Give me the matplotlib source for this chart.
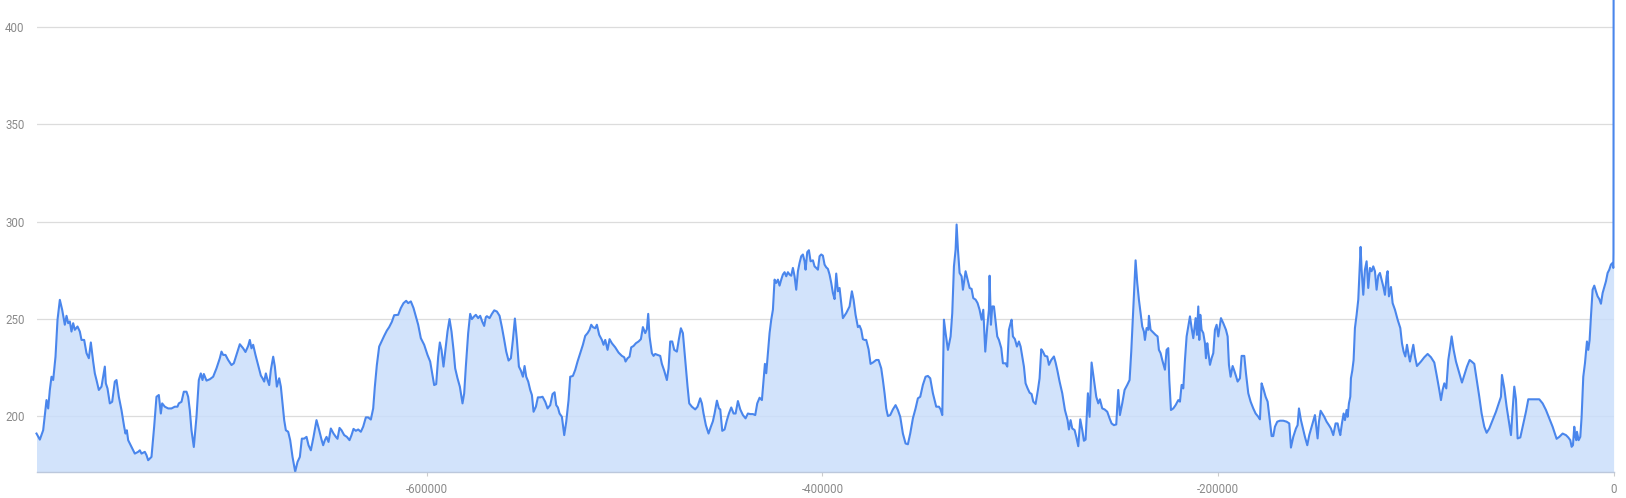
import matplotlib
matplotlib.use("Agg")
import matplotlib.pyplot as plt
from matplotlib.ticker import FixedLocator, FixedFormatter

plt.rcParams['font.family'] = ['Roboto', 'DejaVu Sans']
plt.rcParams['axes.unicode_minus'] = False

# Age (years relative to present) and CO2 (ppm)
ages = [
    -797300, -795610, -793930, -792240, -791400, -790560, -789720, -788870, -787690, -786680,
    -785500, -784320, -782980, -782130, -781290, -780450, -779610, -778760, -777920, -776570,
    -775390, -774550, -773200, -772020, -770840, -769830, -768650, -767810, -766970, -765790,
    -764440, -763600, -762760, -762250, -761410, -760230, -759050, -757700, -756860, -755680,
    -754330, -752980, -752310, -751630, -750960, -749280, -747590, -745910, -745060, -744220,
    -742540, -741690, -740850, -739170, -737820, -736640, -735460, -734450, -733770, -732430,
    -730740, -729060, -727370, -726020, -725350, -724000, -722820, -721470, -720630, -719790,
    -718950, -717770, -716420, -715240, -714230, -713380, -712710, -711360, -709680, -707990,
    -706310, -704620, -703780, -702940, -701760, -700410, -698730, -697550, -696200, -694510,
    -692830, -691650, -690300, -689460, -688620, -687770, -686590, -685250,
    -683880, -683030, -682190, -681350, -680510, -679660, -678820, -677640, -676800, -675790,
    -674610, -673770, -672920, -672080, -671240, -670060, -669050, -667870, -666520, -665340,
    -664160, -663150, -661970, -660790, -659780, -658600, -657250, -655740, -654390, -653210,
    -652370, -651520, -650680, -649670, -648490, -647140, -645960, -645120, -644110, -643100,
    -641750, -640400, -639050, -638040, -637030, -635850, -634670, -633330, -632150, -630800,
    -629620, -628270, -627090, -626250, -625240, -624060, -622880, -621530, -620180, -619000,
    -617650, -616480, -614450, -613110, -611760, -610410, -609400, -608050, -606700, -605520,
    -604340, -603000, -601310, -599630, -598280, -597100, -596260, -595240, -594230, -593390,
    -592550, -591540, -590360, -589520, -588500, -587490, -586480, -585640, -584460, -583280,
    -581930, -581090, -580250, -579070, -578060, -577210, -576040, -575190, -574010, -573000,
    -571990, -570980, -570140,
    -569600, -568250, -567070, -565890, -564550, -563200, -562020, -560840, -559830, -558650,
    -557470, -556460, -555450, -554440, -553420, -552410, -551400, -550560, -549720, -548710,
    -547700, -546850, -546010, -544830, -543820, -542640, -541460, -540110, -538930, -537590,
    -536410, -535390, -534550, -533710, -532870, -531690, -530510, -529500, -528320, -527480,
    -526130, -524950, -523770, -522420, -521070, -519890, -518710, -517700, -516860, -516020,
    -514840, -514000, -512820, -511470, -510630, -509780, -508600, -507590, -506410, -504730,
    -503040, -501360, -500180, -499500, -498490, -497480, -496640, -495460, -494280, -492930,
    -491750, -490740, -489560, -488720, -488050, -487370, -486190, -485350, -484510, -483330,
    -481980, -481140, -479960, -478610, -477770, -476930, -475910, -474900, -473560, -472540,
    -471530, -470520, -469340, -468160, -467320, -465970, -464290, -463110, -461760, -460920,
    -460080, -458900, -457550, -456370,
    -455350, -454500, -453320, -452310, -451630, -450620, -449440, -448260, -447250, -446070,
    -444890, -443880, -442700, -441520, -440180, -438830, -437650, -436470, -435120, -433940,
    -432930, -431750, -430570, -429730, -429050, -428380, -427540, -426700, -425850, -425010,
    -424170, -423330, -422480, -421640, -420800, -419960, -419110, -418270, -417430, -416590,
    -415740, -414900, -414060, -413220, -412370, -411530, -410690, -409850, -409000, -408500,
    -407650, -406810, -405970, -404790, -403950, -403110, -402260, -401420, -400580, -399740,
    -398890, -398050, -397210, -396370, -395520, -394680, -393840, -393000, -392150, -391310,
    -390470, -389630, -387940, -386260, -385080, -384230, -383220, -382040, -381200, -380360,
    -379520, -378670, -377830, -376650, -375640, -374460, -372780, -371600, -370250, -369410,
    -368560, -367720, -366880, -365700, -364350, -363000, -361820, -360640, -359300, -357950,
    -356770, -355590, -354240, -352890, -351710, -350530, -349190, -347840, -346660, -345480,
    -344130, -342450,
    -341080, -340230, -339390, -338550, -337710, -336530, -335180, -334340, -333490, -332650,
    -332140, -331470, -330630, -329620, -328940, -327600, -326580, -325570, -324560, -323720,
    -322540, -321530, -320520, -319510, -318660, -317650, -316640, -315800, -315460, -314790,
    -314120, -313270, -312430, -311590, -310750, -309570, -308720, -307380, -306530, -305690,
    -304850, -304340, -303670, -302660, -301650, -300640, -299790, -298950, -298110, -297270,
    -296250, -295240, -294230, -293390, -292210, -291030, -290190, -289350, -288500, -287490,
    -286310, -285470, -284290, -282940, -282100, -281260, -280080, -278730, -277380, -276030,
    -275360, -274520, -273680, -272500, -271650, -270640, -269630, -268620, -267780, -266940,
    -265760, -264910, -263900, -262720, -261540, -260530, -259690, -258510, -257330, -255980,
    -254800, -253790, -252610, -251430, -250420, -249580, -248400, -247220, -245870, -244690,
    -243850, -243010, -242170, -241660, -240820, -239980, -239130, -238290, -237450, -236940,
    -236100, -235260, -234920, -234080, -232900, -231550, -230540, -229870, -229020, -228180,
    -226830,
    -225970, -225130, -224620, -223780, -222600, -221420, -220070, -219230, -218390, -217540,
    -216700, -215860, -215020, -214170, -213330, -212490, -211980, -211310, -210630, -209960,
    -209450, -208950, -208280, -207430, -206590, -206080, -205410, -204910, -204060, -203220,
    -202380, -201540, -200690, -199850, -199010, -198500, -197320, -195970, -195130, -194460,
    -193620, -192600, -191760, -190920, -190080, -188900, -188060, -186710, -185860, -184690,
    -183510, -182160, -180980, -179630, -178790, -177950, -177100, -175920, -174910, -173730,
    -172890, -172050, -171210, -170030, -168680, -166990, -165310, -163960, -163120, -161940,
    -160590, -159750, -159070, -158060, -156880, -156040, -154860, -153850, -152670, -151490,
    -150990, -150140, -149640, -148960, -148120, -147280, -146270, -145090, -143910, -142900,
    -141720, -140540, -139530, -138850, -138180, -137340, -136490, -135820, -134980, -134470,
    -133800, -133120, -132790, -132110, -131440, -130770, -129920, -129080, -128570, -127900,
    -127400, -126550, -125710, -124870, -124030, -123180, -122340, -121500, -120660, -119810,
    -118970, -118130, -117290, -116440, -115600, -114760, -114250, -113580,
    -112550, -111710, -110530, -109180, -107830, -106990, -106150, -105300, -104460, -103620,
    -102950, -102100, -101260, -100420, -99410, -97390, -95700, -94020, -92330, -90650,
    -89470, -88120, -87280, -86430, -85590, -84580, -83570, -82560, -81880, -80870,
    -79690, -78010, -76660, -75480, -74130, -72780, -71770, -70430, -69080, -67900,
    -66720, -65370, -64190, -62840, -61160, -59470, -57790, -56950, -56440, -55260,
    -54080, -52900, -51890, -51050, -50210, -49360, -48520, -47170, -45990, -44310,
    -43130, -40940, -37570, -35880, -34200, -32510, -30830, -28810, -27460, -25770,
    -24090, -22910, -21900, -21220, -20550, -19880, -19370, -18860, -18530, -17680,
    -16840, -16170, -15330, -14480, -13470, -12800, -12120, -11450, -10610, -9770,
    -8920, -8080, -7240, -6400, -5550, -4710, -3870, -3030, -2180, -1340,
    -500, -150, -60, 0,
]

co2 = [
    191.2, 188.1, 192.9, 208.4, 204.1, 213.6, 220.4, 218.7, 230.7, 249.6,
    259.9, 254.8, 247.1, 251.7, 247.9, 248.8, 243.6, 247.9, 244.5, 246.2,
    243.6, 239.3, 239.3, 232.5, 229.9, 238.0, 228.2, 222.1, 218.7, 213.6,
    215.3, 220.4, 225.6, 217.0, 214.4, 206.7, 207.5, 217.9, 218.7, 210.1,
    203.2, 194.7, 191.2, 192.9, 187.8, 184.3, 180.9, 181.8, 182.6, 180.9,
    181.8, 180.1, 177.5, 179.2, 194.7, 210.1, 211.0, 201.5, 206.7, 205.0,
    204.1, 204.1, 205.0, 205.0, 206.7, 207.5, 212.7, 212.7, 210.1, 203.2,
    192.9, 184.3, 199.8, 218.7, 222.1, 218.7, 221.8, 218.4, 219.1, 220.4,
    224.7, 229.9, 233.3, 231.6, 231.6, 229.0, 226.4, 227.3, 231.6, 237.1,
    235.0, 233.1, 236.2, 239.3, 235.0, 236.8, 231.6, 226.4,
    221.0, 219.6, 217.9, 222.1, 218.7, 216.1, 223.9, 230.7, 225.6, 215.3,
    219.6, 215.3, 206.7, 198.1, 192.9, 192.1, 187.8, 179.2, 171.6, 176.6,
    179.2, 188.6, 188.6, 189.5, 185.2, 182.6, 189.5, 198.1, 192.9, 188.1,
    185.2, 187.8, 189.5, 186.9, 193.8, 191.2, 189.5, 188.5, 194.1, 192.9,
    190.4, 189.5, 187.8, 190.4, 193.6, 192.6, 193.3, 192.1, 194.7, 199.5,
    199.5, 198.4, 204.1, 215.3, 226.4, 235.9, 238.5, 241.4, 244.1, 245.9,
    248.6, 252.0, 252.2, 255.7, 258.2, 259.4, 258.2, 259.1, 255.7, 251.4,
    247.1, 240.2, 236.8, 231.6, 228.2, 221.3, 216.1, 216.6, 230.7, 238.0,
    234.2, 225.6, 235.9, 243.6, 250.0, 243.6, 234.2, 224.7, 219.6, 215.3,
    206.7, 211.8, 225.6, 242.8, 252.7, 250.0, 251.4, 252.2, 250.5, 251.7,
    248.8, 246.5, 251.0,
    251.5, 250.5, 252.7, 254.5, 253.9, 251.7, 245.9, 239.3, 233.3, 228.7,
    229.9, 239.3, 250.3, 239.3, 225.6, 223.5, 220.4, 225.9, 220.4, 217.9,
    213.6, 211.0, 202.4, 205.0, 209.8, 209.8, 210.1, 207.5, 204.1, 205.8,
    211.5, 212.4, 205.8, 204.6, 201.5, 199.8, 190.4, 197.2, 208.4, 220.4,
    220.8, 223.9, 228.2, 232.5, 236.8, 241.4, 242.8, 244.5, 247.1, 245.9,
    245.3, 247.1, 241.9, 239.3, 236.8, 239.3, 234.2, 239.7, 237.6, 235.5,
    232.8, 231.1, 230.4, 228.2, 229.9, 230.7, 235.5, 236.2, 237.6, 238.5,
    239.7, 245.9, 242.8, 244.8, 252.7, 241.0, 232.5, 231.1, 232.1, 231.6,
    231.1, 227.0, 223.5, 218.7, 224.7, 238.5, 238.5, 234.2, 233.3, 239.7,
    245.3, 242.8, 229.0, 215.3, 206.7, 205.0, 203.6, 205.0, 209.3, 206.7,
    201.5, 195.5, 191.2, 194.7,
    197.5, 201.5, 208.1, 204.1, 203.6, 192.6, 193.3, 198.1, 201.5, 204.6,
    201.5, 201.5, 207.9, 203.6, 200.7, 199.0, 201.5, 201.2, 201.2, 200.7,
    206.7, 209.6, 208.4, 218.7, 227.0, 222.2, 232.5, 242.8, 249.7, 254.8,
    270.3, 268.6, 270.3, 267.2, 270.3, 272.9, 274.1, 272.0, 274.1, 272.9,
    272.3, 276.3, 272.0, 265.1, 274.6, 278.9, 282.3, 283.2, 279.7, 275.4,
    284.4, 285.4, 279.7, 280.2, 277.1, 276.3, 275.4, 282.3, 283.2, 282.6,
    278.0, 276.6, 275.8, 272.9, 268.6, 263.4, 260.3, 273.4, 264.3, 266.0,
    258.2, 250.5, 253.1, 256.5, 264.3, 260.0, 252.2, 245.9, 246.6, 244.5,
    239.7, 239.3, 239.3, 234.5, 227.0, 227.7, 229.0, 229.0, 224.7, 218.7,
    211.9, 204.1, 200.2, 200.7, 203.6, 205.8, 203.3, 199.8, 191.2, 186.1,
    185.7, 191.2, 199.0, 204.1, 209.3, 210.1, 216.2, 220.4, 220.8, 219.6,
    211.9, 205.0,
    205.0, 203.6, 200.7, 249.7, 242.8, 234.2, 241.1, 253.1, 277.1, 285.7,
    298.6, 285.7, 273.7, 272.0, 265.1, 274.6, 270.3, 266.0, 265.5, 260.8,
    260.0, 258.2, 254.8, 249.7, 254.8, 233.3, 246.2, 254.8, 272.3, 247.1,
    256.5, 256.5, 248.8, 241.1, 239.3, 235.1, 227.3, 227.3, 225.6, 244.5,
    247.9, 249.7, 241.1, 239.7, 235.9, 238.5, 235.9, 230.8, 225.6, 217.0,
    214.4, 212.2, 211.5, 207.6, 206.4, 213.6, 219.6, 234.5, 233.3, 231.1,
    230.8, 226.5, 229.0, 230.8, 227.7, 223.9, 217.9, 211.9, 203.3, 198.1,
    193.3, 198.1, 193.8, 193.0, 189.5, 184.7, 198.5, 193.0, 187.5, 188.1,
    211.9, 199.8, 227.7, 218.7, 210.1, 206.7, 208.8, 204.1, 203.6, 202.4,
    199.0, 196.4, 195.5, 195.9, 213.6, 200.7, 206.7, 213.6, 216.2, 218.7,
    233.3, 251.4, 270.3, 280.2, 268.6, 260.0, 253.1, 246.2, 243.6, 239.3,
    245.4, 244.5, 251.7, 244.5, 243.3, 241.9, 241.1, 234.2, 232.5, 229.0,
    224.0,
    234.2, 235.1, 218.7, 203.3, 204.1, 205.8, 208.4, 207.6, 216.2, 214.4,
    229.0, 241.1, 246.2, 251.4, 245.4, 240.2, 244.5, 250.5, 241.9, 256.5,
    239.3, 252.2, 244.5, 242.8, 237.6, 229.9, 237.6, 233.3, 226.5, 229.9,
    232.5, 244.5, 247.1, 241.1, 247.1, 250.5, 247.9, 244.5, 241.1, 226.5,
    220.4, 225.9, 223.5, 220.8, 217.9, 219.6, 231.1, 231.1, 222.2, 211.9,
    207.6, 204.1, 201.5, 199.8, 198.5, 217.0, 214.4, 210.1, 207.6, 197.3,
    189.9, 189.9, 194.7, 197.3, 197.8, 197.8, 197.3, 196.4, 184.0, 189.5,
    193.8, 195.5, 204.1, 198.1, 193.0, 189.5, 185.2, 190.4, 194.7, 199.0,
    200.7, 193.0, 188.7, 197.3, 202.9, 201.5, 199.8, 197.3, 195.5, 193.8,
    190.4, 196.4, 196.4, 193.0, 190.4, 196.4, 201.5, 198.1, 203.3, 199.8,
    206.7, 210.1, 219.6, 223.5, 229.0, 245.4, 252.2, 260.0, 272.0, 287.1,
    275.4, 262.5, 275.4, 279.7, 266.0, 276.3, 274.6, 277.1, 274.6, 265.1,
    272.3, 273.7, 270.3, 266.8, 262.5, 272.0, 274.6, 261.7,
    266.5, 258.2, 254.8, 249.7, 245.4, 237.6, 233.3, 230.8, 236.8, 231.6,
    228.2, 232.5, 236.8, 230.8, 225.9, 228.2, 230.4, 232.1, 230.4, 227.7,
    221.3, 213.6, 208.4, 213.6, 217.0, 214.4, 229.0, 235.9, 241.1, 234.2,
    228.2, 222.2, 217.4, 221.3, 225.6, 229.0, 228.2, 227.0, 217.9, 210.1,
    201.5, 194.7, 191.6, 193.8, 198.1, 202.4, 207.6, 210.1, 221.3, 214.4,
    205.0, 197.3, 190.4, 203.3, 215.3, 208.8, 188.7, 189.2, 194.7, 202.4,
    208.8, 208.8, 208.8, 206.7, 203.3, 199.0, 194.7, 188.5, 189.5, 191.2,
    190.4, 189.2, 187.8, 184.4, 185.2, 194.7, 189.9, 187.8, 192.1, 187.8,
    189.5, 199.8, 220.4, 227.3, 238.5, 234.2, 239.3, 251.4, 265.1, 267.2,
    264.3, 261.7, 260.3, 257.9, 263.4, 266.5, 269.4, 273.7, 275.4, 278.0,
    278.9, 276.3, 284.0, 413.7,
]

x_ticks = [-600000, -400000, -200000, 0]
x_tick_labels = ["-600000", "-400000", "-200000", "0"]
y_ticks = [200, 250, 300, 350, 400]
y_tick_labels = ["200", "250", "300", "350", "400"]

line_color = "#4a86ec"
fill_color = "#cadefb"
grid_color = "#dcdcdc"
text_color = "#8a8a8a"

fig = plt.figure(figsize=(16.26, 4.98), dpi=100)
ax = fig.add_axes([36.5 / 1626, 26.3 / 498, (1613.6 - 36.5) / 1626, (498 - 26.3 - 0.5) / 498])

ymin, ymax = min(co2), max(co2)
ax.set_xlim(ages[0], 0)
ax.set_ylim(ymin, ymax)

ax.fill_between(ages, co2, ymin, color=fill_color, lw=0, zorder=2, alpha=0.85)
ax.plot(ages, co2, color=line_color, lw=1.5, zorder=3, solid_joinstyle='round', clip_on=False)

for y in y_ticks:
    ax.axhline(y, color=grid_color, lw=0.9, zorder=1)

ax.xaxis.set_major_locator(FixedLocator(x_ticks))
ax.xaxis.set_major_formatter(FixedFormatter(x_tick_labels))
ax.yaxis.set_major_locator(FixedLocator(y_ticks))
ax.yaxis.set_major_formatter(FixedFormatter(y_tick_labels))

ax.tick_params(axis='y', length=0, pad=8.5, labelsize=8.3, labelcolor=text_color)
ax.tick_params(axis='x', length=3, width=0.8, color="#cccccc", pad=5,
               labelsize=8.3, labelcolor=text_color)

for side in ['top', 'right', 'left']:
    ax.spines[side].set_visible(False)
ax.spines['bottom'].set_color("#bcc8dc")
ax.spines['bottom'].set_linewidth(1.0)
ax.spines['bottom'].set_zorder(4)

fig.savefig("out.png", dpi=100, facecolor="white")
